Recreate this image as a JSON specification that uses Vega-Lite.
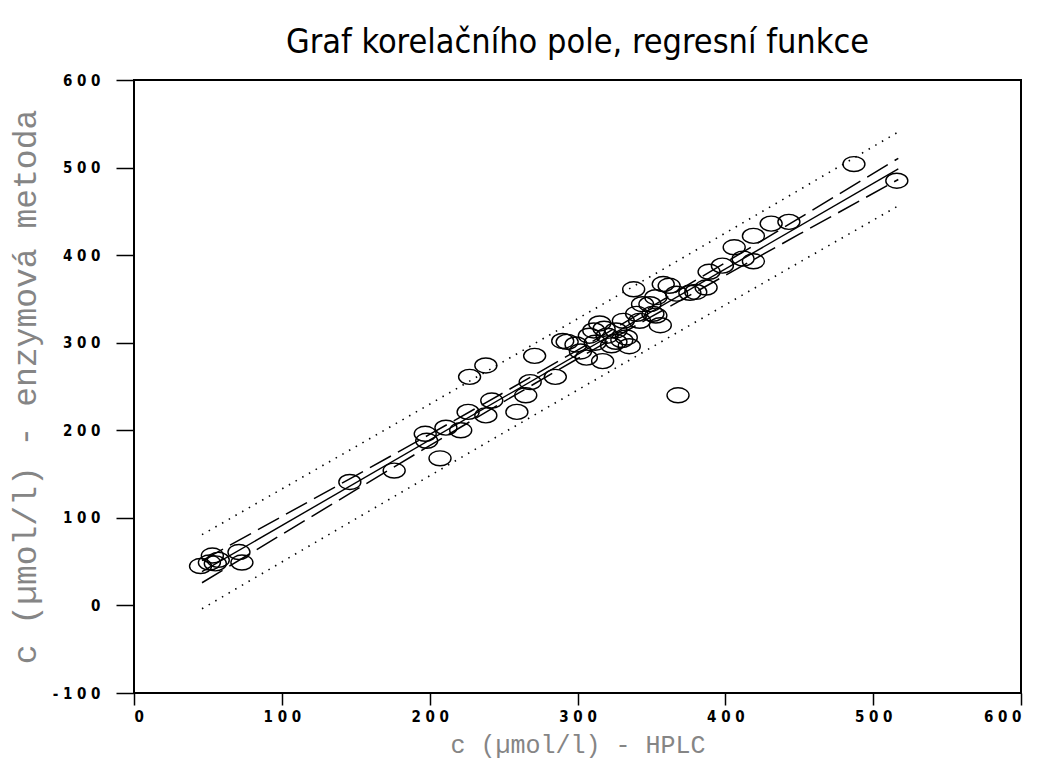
{
  "$schema": "https://vega.github.io/schema/vega-lite/v6.json",
  "width": 887,
  "height": 613,
  "autosize": {"type": "none"},
  "padding": {"left": 134, "top": 80, "right": 18, "bottom": 78},
  "background": "white",
  "config": {
    "view": {"stroke": "black", "strokeWidth": 2},
    "axis": {
      "grid": false,
      "domain": false,
      "tickColor": "black",
      "tickWidth": 1.5,
      "labelColor": "black",
      "labelFont": "Liberation Sans Narrow, DejaVu Sans Condensed, Liberation Sans, sans-serif",
      "labelFontSize": 15,
      "labelFontWeight": "bold",
      "titleFont": "Liberation Mono, DejaVu Sans Mono, monospace",
      "titleFontWeight": "normal",
      "titleColor": "#858585"
    }
  },
  "title": {
    "text": "Graf korelačního pole, regresní funkce",
    "font": "Liberation Sans Narrow, DejaVu Sans Condensed, Liberation Sans, sans-serif",
    "fontSize": 34,
    "fontWeight": "normal",
    "color": "black",
    "anchor": "middle",
    "baseline": "alphabetic",
    "offset": 30,
    "dy": 44
  },
  "datasets": {
    "points": [
      {"x": 45, "y": 45}, {"x": 51, "y": 49}, {"x": 53, "y": 57}, {"x": 55, "y": 48},
      {"x": 57, "y": 52}, {"x": 71, "y": 61}, {"x": 73, "y": 49},
      {"x": 146, "y": 141}, {"x": 176, "y": 154}, {"x": 197, "y": 196}, {"x": 198, "y": 188},
      {"x": 207, "y": 168}, {"x": 211, "y": 203}, {"x": 221, "y": 200}, {"x": 226, "y": 221},
      {"x": 227, "y": 261}, {"x": 238, "y": 274}, {"x": 238, "y": 217}, {"x": 242, "y": 234},
      {"x": 259, "y": 221}, {"x": 265, "y": 240}, {"x": 268, "y": 255}, {"x": 271, "y": 285},
      {"x": 285, "y": 261}, {"x": 290, "y": 302}, {"x": 293, "y": 301}, {"x": 299, "y": 298},
      {"x": 302, "y": 290}, {"x": 306, "y": 283}, {"x": 308, "y": 308}, {"x": 311, "y": 314},
      {"x": 312, "y": 300}, {"x": 315, "y": 322}, {"x": 317, "y": 279}, {"x": 318, "y": 316},
      {"x": 320, "y": 308}, {"x": 323, "y": 297}, {"x": 326, "y": 314}, {"x": 326, "y": 301},
      {"x": 330, "y": 303}, {"x": 331, "y": 325}, {"x": 333, "y": 306}, {"x": 335, "y": 296},
      {"x": 338, "y": 361}, {"x": 340, "y": 333}, {"x": 342, "y": 325}, {"x": 344, "y": 344},
      {"x": 349, "y": 344}, {"x": 351, "y": 333}, {"x": 353, "y": 352}, {"x": 353, "y": 331},
      {"x": 356, "y": 320}, {"x": 358, "y": 367}, {"x": 362, "y": 365}, {"x": 367, "y": 356},
      {"x": 368, "y": 240}, {"x": 376, "y": 357}, {"x": 380, "y": 358}, {"x": 387, "y": 363},
      {"x": 389, "y": 381}, {"x": 398, "y": 388}, {"x": 406, "y": 409}, {"x": 412, "y": 396},
      {"x": 419, "y": 393}, {"x": 419, "y": 422}, {"x": 431, "y": 436}, {"x": 443, "y": 438},
      {"x": 487, "y": 504}, {"x": 516, "y": 485}
    ],
    "bands": [
      {"x": 46, "y": 38.5, "band": "fit"}, {"x": 517, "y": 498.5, "band": "fit"},
      {"x": 46, "y": 25.9, "band": "clo"}, {"x": 100, "y": 81.1, "band": "clo"}, {"x": 150, "y": 131.9, "band": "clo"},
      {"x": 200, "y": 182.5, "band": "clo"}, {"x": 250, "y": 232.6, "band": "clo"}, {"x": 300, "y": 281.7, "band": "clo"},
      {"x": 350, "y": 329.7, "band": "clo"}, {"x": 400, "y": 376.9, "band": "clo"}, {"x": 450, "y": 423.9, "band": "clo"},
      {"x": 517, "y": 486.4, "band": "clo"},
      {"x": 46, "y": 51.1, "band": "chi"}, {"x": 100, "y": 101.6, "band": "chi"}, {"x": 150, "y": 148.3, "band": "chi"},
      {"x": 200, "y": 195.3, "band": "chi"}, {"x": 250, "y": 243.0, "band": "chi"}, {"x": 300, "y": 291.5, "band": "chi"},
      {"x": 350, "y": 341.1, "band": "chi"}, {"x": 400, "y": 391.5, "band": "chi"}, {"x": 450, "y": 442.3, "band": "chi"},
      {"x": 517, "y": 510.6, "band": "chi"},
      {"x": 46, "y": -3.8, "band": "plo"}, {"x": 100, "y": 49.6, "band": "plo"}, {"x": 150, "y": 98.9, "band": "plo"},
      {"x": 200, "y": 148.0, "band": "plo"}, {"x": 250, "y": 197.1, "band": "plo"}, {"x": 300, "y": 245.9, "band": "plo"},
      {"x": 350, "y": 294.6, "band": "plo"}, {"x": 400, "y": 343.2, "band": "plo"}, {"x": 450, "y": 391.7, "band": "plo"},
      {"x": 517, "y": 456.3, "band": "plo"},
      {"x": 46, "y": 80.8, "band": "phi"}, {"x": 100, "y": 133.0, "band": "phi"}, {"x": 150, "y": 181.3, "band": "phi"},
      {"x": 200, "y": 229.8, "band": "phi"}, {"x": 250, "y": 278.5, "band": "phi"}, {"x": 300, "y": 327.3, "band": "phi"},
      {"x": 350, "y": 376.2, "band": "phi"}, {"x": 400, "y": 425.2, "band": "phi"}, {"x": 450, "y": 474.5, "band": "phi"},
      {"x": 517, "y": 540.7, "band": "phi"}
    ]
  },
  "encoding": {
    "x": {
      "field": "x",
      "type": "quantitative",
      "scale": {"domain": [0, 600], "nice": false, "zero": false},
      "axis": {
        "values": [0, 100, 200, 300, 400, 500, 600],
        "tickSize": 12,
        "labelPadding": 4,
        "labelExpr": "join(split(toString(datum.value), ''), ' ')",
        "title": "c (µmol/l) - HPLC",
        "titleFontSize": 25,
        "titlePadding": 8
      }
    },
    "y": {
      "field": "y",
      "type": "quantitative",
      "scale": {"domain": [-100, 600], "nice": false, "zero": false},
      "axis": {
        "values": [-100, 0, 100, 200, 300, 400, 500, 600],
        "tickSize": 18,
        "labelPadding": 16,
        "labelExpr": "join(split(toString(datum.value), ''), ' ')",
        "title": "c (µmol/l) - enzymová metoda",
        "titleFontSize": 33,
        "titlePadding": 10
      }
    }
  },
  "layer": [
    {
      "data": {"name": "bands"},
      "transform": [{"filter": "datum.band === 'plo' || datum.band === 'phi'"}],
      "mark": {"type": "line", "color": "black", "strokeWidth": 1.6, "strokeDash": [1.5, 6.2]},
      "encoding": {"detail": {"field": "band", "type": "nominal"}}
    },
    {
      "data": {"name": "bands"},
      "transform": [{"filter": "datum.band === 'clo' || datum.band === 'chi'"}],
      "mark": {"type": "line", "color": "black", "strokeWidth": 1.5, "strokeDash": [24, 8]},
      "encoding": {"detail": {"field": "band", "type": "nominal"}}
    },
    {
      "data": {"name": "bands"},
      "transform": [{"filter": "datum.band === 'fit'"}],
      "mark": {"type": "line", "color": "black", "strokeWidth": 1.4},
      "encoding": {}
    },
    {
      "data": {"name": "points"},
      "mark": {
        "type": "point",
        "shape": "M-1,0A1,0.68,0,1,1,1,0A1,0.68,0,1,1,-1,0Z",
        "size": 484,
        "filled": false,
        "color": "black",
        "strokeWidth": 1.4,
        "opacity": 1
      },
      "encoding": {}
    }
  ]
}
